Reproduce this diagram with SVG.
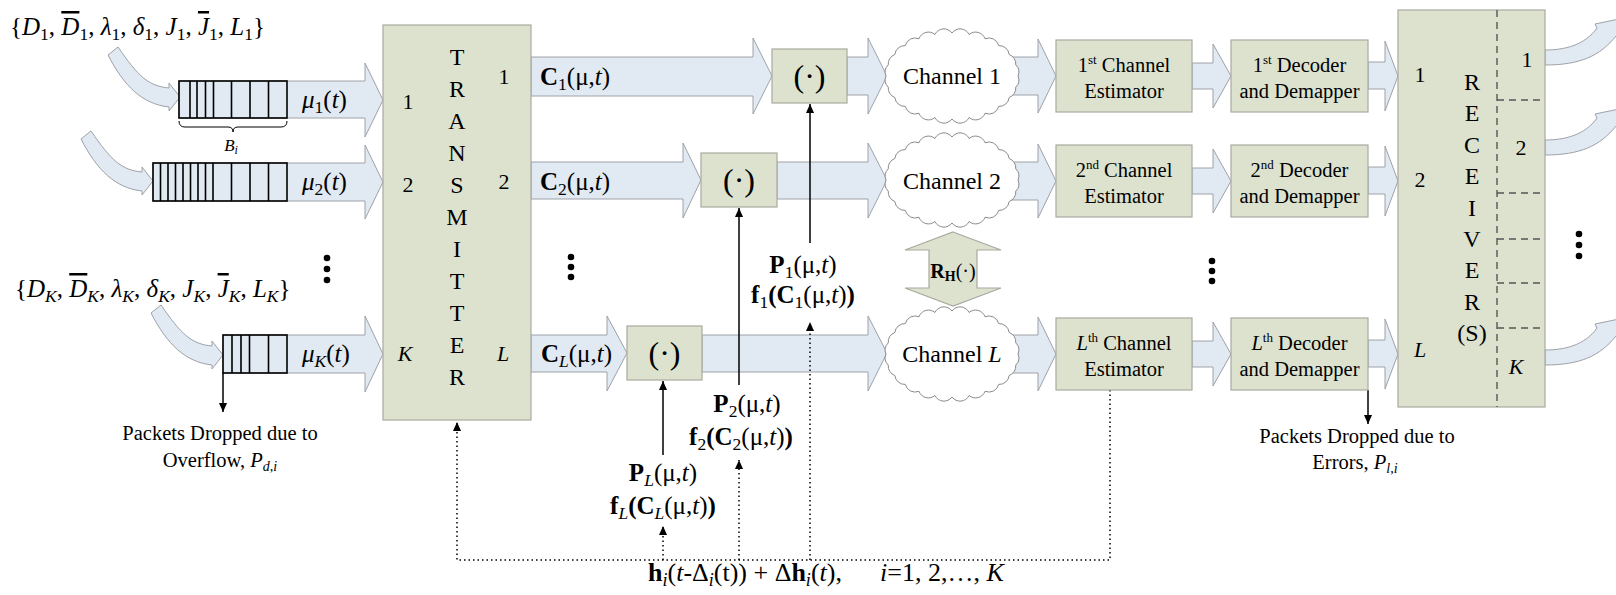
<svg xmlns="http://www.w3.org/2000/svg" width="1616" height="595" viewBox="0 0 1616 595" font-family="'Liberation Serif', serif">
<style>
text, tspan{font-family:'Liberation Serif', 'Times New Roman', serif;fill:#000}
.box{fill:#dde2cf;stroke:#a8aaa0;stroke-width:1.2}
.arw{fill:#e1e9f3;stroke:#9ea2a8;stroke-width:1}
.cloud{fill:#fff;stroke:#8a8a8a;stroke-width:1}
.q{fill:none;stroke:#000;stroke-width:1.6}
.ln{fill:none;stroke:#000;stroke-width:1.5}
.dot{fill:none;stroke:#000;stroke-width:1.5;stroke-dasharray:1.5 3}
.dash{fill:none;stroke:#555;stroke-width:1.4;stroke-dasharray:7 5}
.i{font-style:italic}
.b{font-weight:bold}
.ov{text-decoration:overline}
.mid{text-anchor:middle}
.f19{font-size:20.5px}
.f20{font-size:20.5px}
.f22{font-size:22px}
.f23{font-size:24px}
.f24{font-size:24px}
.f25{font-size:25px}
.f26{font-size:26px}
.f32{font-size:32px}
.sb{font-size:17.5px}
.sp{font-size:13px}
</style>
<defs>
<marker id="ah" viewBox="0 0 10 10" refX="10" refY="5" markerWidth="9" markerHeight="9" markerUnits="userSpaceOnUse" orient="auto"><path d="M0,0.5 L10,5 L0,9.5 Z" fill="#000"/></marker>
<path id="cloudShape" d="M66,0 A10,10 0 0 1 63.75,11.13 A10,10 0 0 1 57.16,21.5 A10,10 0 0 1 46.67,30.41 A10,10 0 0 1 33,37.24 A10,10 0 0 1 17.08,41.53 A10,10 0 0 1 0,43 A10,10 0 0 1 -17.08,41.53 A10,10 0 0 1 -33,37.24 A10,10 0 0 1 -46.67,30.41 A10,10 0 0 1 -57.16,21.5 A10,10 0 0 1 -63.75,11.13 A10,10 0 0 1 -66,0 A10,10 0 0 1 -63.75,-11.13 A10,10 0 0 1 -57.16,-21.5 A10,10 0 0 1 -46.67,-30.41 A10,10 0 0 1 -33,-37.24 A10,10 0 0 1 -17.08,-41.53 A10,10 0 0 1 0,-43 A10,10 0 0 1 17.08,-41.53 A10,10 0 0 1 33,-37.24 A10,10 0 0 1 46.67,-30.41 A10,10 0 0 1 57.16,-21.5 A10,10 0 0 1 63.75,-11.13 A10,10 0 0 1 66,0 Z"/>
</defs>

<!-- block arrows (drawn first, boxes sit on top) -->
<g id="connectors">
  <!-- source inputs into the queues -->
  <path class="arw" d="M118,47 C138,76 148,86 169,88 L169,83 L180,97 L169,111 L169,107 C142,104 124,86 108,55 Z"/>
  <path class="arw" d="M91,131 C111,160 121,170 142,172 L142,167 L153,181 L142,195 L142,191 C115,188 97,170 81,139 Z"/>
  <path class="arw" d="M161,305 C181,334 191,344 212,346 L212,341 L223,355 L212,369 L212,365 C185,362 167,344 151,313 Z"/>
  <!-- queues to transmitter -->
  <polygon class="arw" points="179,81 365,81 365,63 383,100 365,137 365,118 179,118"/>
  <polygon class="arw" points="153,163 365,163 365,145 383,182 365,219 365,201 153,201"/>
  <polygon class="arw" points="223,335 365,335 365,316 383,354 365,392 365,373 223,373"/>
  <!-- transmitter outputs -->
  <polygon class="arw" points="531,57 753,57 753,38 772,76 753,114 753,96 531,96"/>
  <polygon class="arw" points="531,162 683,162 683,143 701,180 683,218 683,199 531,199"/>
  <polygon class="arw" points="531,335 607,335 607,316 627,353 607,391 607,372 531,372"/>
  <!-- precoders to channels -->
  <polygon class="arw" points="847,57 868,57 868,38 887,76 868,114 868,95 847,95"/>
  <polygon class="arw" points="777,162 868,162 868,143 887,180 868,218 868,199 777,199"/>
  <polygon class="arw" points="702,335 868,335 868,316 887,353 868,391 868,372 702,372"/>
  <!-- channels to estimators -->
  <polygon class="arw" points="1010,57 1038,57 1038,39 1056,76 1038,113 1038,95 1010,95"/>
  <polygon class="arw" points="1010,162 1038,162 1038,144 1056,181 1038,218 1038,200 1010,200"/>
  <polygon class="arw" points="1010,335 1038,335 1038,317 1056,354 1038,391 1038,373 1010,373"/>
  <!-- estimators to decoders -->
  <polygon class="arw" points="1192,63 1213,63 1213,44 1231,76 1213,108 1213,89 1192,89"/>
  <polygon class="arw" points="1192,168 1213,168 1213,149 1231,181 1213,213 1213,194 1192,194"/>
  <polygon class="arw" points="1192,341 1213,341 1213,322 1231,354 1213,386 1213,367 1192,367"/>
  <!-- decoders to receiver -->
  <polygon class="arw" points="1368,62 1385,62 1385,41 1398,76 1385,111 1385,89 1368,89"/>
  <polygon class="arw" points="1368,167 1385,167 1385,146 1398,181 1385,216 1385,194 1368,194"/>
  <polygon class="arw" points="1368,340 1385,340 1385,319 1398,354 1385,389 1385,367 1368,367"/>
  <!-- receiver outputs -->
  <path class="arw" d="M1545,50 C1565,50 1585,45 1597,28 L1595,24 L1624,18 L1624,42 L1616,36 C1600,56 1580,65 1545,65 Z"/>
  <path class="arw" d="M1545,140 C1565,140 1585,135 1597,118 L1595,114 L1624,108 L1624,132 L1616,126 C1600,146 1580,155 1545,155 Z"/>
  <path class="arw" d="M1545,350 C1565,350 1585,345 1597,328 L1595,324 L1624,318 L1624,342 L1616,336 C1600,356 1580,365 1545,365 Z"/>
  <!-- correlation between channels -->
  <polygon class="box" points="953,232 1001,250 977,250 977,288 1001,288 953,306 905,288 929,288 929,250 905,250"/>

  <!-- control inputs to the precoders -->
  <line class="ln" x1="810" y1="243" x2="810" y2="104" marker-end="url(#ah)"/>
  <line class="ln" x1="739" y1="385" x2="739" y2="208" marker-end="url(#ah)"/>
  <line class="ln" x1="663" y1="455" x2="663" y2="381" marker-end="url(#ah)"/>
  <!-- packet drops -->
  <line class="ln" x1="223" y1="373" x2="223" y2="412" marker-end="url(#ah)"/>
  <line class="ln" x1="1368" y1="390" x2="1368" y2="424" marker-end="url(#ah)"/>
  <!-- feedback of channel state -->
  <polyline class="dot" points="1110,390 1110,560 457,560 457,422" marker-end="url(#ah)"/>
  <line class="dot" x1="810" y1="560" x2="810" y2="322" marker-end="url(#ah)"/>
  <line class="dot" x1="739" y1="560" x2="739" y2="460" marker-end="url(#ah)"/>
  <line class="dot" x1="663" y1="560" x2="663" y2="526" marker-end="url(#ah)"/>
</g>

<!-- packet queues -->
<g id="queue1">
  <rect class="q" x="179" y="81" width="108" height="37"/>
  <path class="q" d="M190,81V118M197,81V118M205.5,81V118M213.5,81V118M231.5,81V118M250,81V118M268.5,81V118"/>
  <path fill="none" stroke="#000" stroke-width="1" d="M179,121 Q179,127 185,127 L228,127 Q233,127 233,132 Q233,127 238,127 L281,127 Q287,127 287,121"/>
  <text class="i mid" x="231" y="151" font-size="17">B<tspan font-size="12" dy="3">i</tspan></text>
</g>
<g id="queue2">
  <rect class="q" x="153" y="163" width="134" height="38"/>
  <path class="q" d="M160.5,163V201M168,163V201M175.5,163V201M183,163V201M190.5,163V201M198,163V201M205.5,163V201M213,163V201M231.5,163V201M250,163V201M268.5,163V201"/>
</g>
<g id="queueK">
  <rect class="q" x="223" y="335" width="64" height="38"/>
  <path class="q" d="M232,335V373M241,335V373M249.5,335V373M268.5,335V373"/>
</g>

<!-- source parameter sets -->
<text class="f25" x="10" y="35">{<tspan class="i">D</tspan><tspan class="sb" dy="5">1</tspan><tspan dy="-5">, </tspan><tspan class="i ov">D</tspan><tspan class="sb" dy="5">1</tspan><tspan dy="-5">, </tspan><tspan class="i">λ</tspan><tspan class="sb" dy="5">1</tspan><tspan dy="-5">, </tspan><tspan class="i">δ</tspan><tspan class="sb" dy="5">1</tspan><tspan dy="-5">, </tspan><tspan class="i">J</tspan><tspan class="sb" dy="5">1</tspan><tspan dy="-5">, </tspan><tspan class="i ov">J</tspan><tspan class="sb" dy="5">1</tspan><tspan dy="-5">, </tspan><tspan class="i">L</tspan><tspan class="sb" dy="5">1</tspan><tspan dy="-5">}</tspan></text>
<text class="f25" x="15" y="297">{<tspan class="i">D</tspan><tspan class="sb i" dy="5">K</tspan><tspan dy="-5">, </tspan><tspan class="i ov">D</tspan><tspan class="sb i" dy="5">K</tspan><tspan dy="-5">, </tspan><tspan class="i">λ</tspan><tspan class="sb i" dy="5">K</tspan><tspan dy="-5">, </tspan><tspan class="i">δ</tspan><tspan class="sb i" dy="5">K</tspan><tspan dy="-5">, </tspan><tspan class="i">J</tspan><tspan class="sb i" dy="5">K</tspan><tspan dy="-5">, </tspan><tspan class="i ov">J</tspan><tspan class="sb i" dy="5">K</tspan><tspan dy="-5">, </tspan><tspan class="i">L</tspan><tspan class="sb i" dy="5">K</tspan><tspan dy="-5">}</tspan></text>

<!-- service rates -->
<text class="f25" x="302" y="108"><tspan class="i">μ</tspan><tspan class="sb" dy="5">1</tspan><tspan dy="-5">(</tspan><tspan class="i">t</tspan>)</text>
<text class="f25" x="302" y="190"><tspan class="i">μ</tspan><tspan class="sb" dy="5">2</tspan><tspan dy="-5">(</tspan><tspan class="i">t</tspan>)</text>
<text class="f25" x="302" y="362"><tspan class="i">μ</tspan><tspan class="sb i" dy="5">K</tspan><tspan dy="-5">(</tspan><tspan class="i">t</tspan>)</text>

<!-- dots -->
<g id="ellipses" fill="#000">
  <circle cx="327" cy="258" r="3.3"/><circle cx="327" cy="269" r="3.3"/><circle cx="327" cy="280" r="3.3"/>
  <circle cx="571" cy="257" r="3.3"/><circle cx="571" cy="267" r="3.3"/><circle cx="571" cy="277" r="3.3"/>
  <circle cx="1212" cy="261" r="3.3"/><circle cx="1212" cy="271" r="3.3"/><circle cx="1212" cy="281" r="3.3"/>
  <circle cx="1579" cy="234" r="3.3"/><circle cx="1579" cy="245" r="3.3"/><circle cx="1579" cy="256" r="3.3"/>
</g>

<!-- transmitter -->
<g id="transmitter">
  <rect class="box" x="383" y="25" width="148" height="395"/>
  <g class="f24 mid">
    <text x="457" y="65">T</text><text x="457" y="97">R</text><text x="457" y="129">A</text><text x="457" y="161">N</text><text x="457" y="193">S</text><text x="457" y="225">M</text><text x="457" y="257">I</text><text x="457" y="289">T</text><text x="457" y="321">T</text><text x="457" y="353">E</text><text x="457" y="385">R</text>
  </g>
  <g class="f22 mid">
    <text x="408" y="109">1</text><text x="408" y="192">2</text><text class="i" x="405" y="361">K</text>
    <text x="504" y="84">1</text><text x="504" y="189">2</text><text class="i" x="503" y="361">L</text>
  </g>
</g>
<text class="f25" x="540" y="85"><tspan class="b">C</tspan><tspan class="sb" dy="5">1</tspan><tspan dy="-5">(μ,</tspan><tspan class="i">t</tspan>)</text>
<text class="f25" x="540" y="190"><tspan class="b">C</tspan><tspan class="sb" dy="5">2</tspan><tspan dy="-5">(μ,</tspan><tspan class="i">t</tspan>)</text>
<text class="f25" x="541" y="362"><tspan class="b">C</tspan><tspan class="sb i" dy="5">L</tspan><tspan dy="-5">(μ,</tspan><tspan class="i">t</tspan>)</text>

<!-- precoding blocks -->
<g id="precoder1"><rect class="box" x="772" y="49" width="75" height="54"/><text class="f32 mid" x="809.5" y="87">(·)</text></g>
<g id="precoder2"><rect class="box" x="701" y="153" width="76" height="54"/><text class="f32 mid" x="739" y="191">(·)</text></g>
<g id="precoderL"><rect class="box" x="627" y="326" width="75" height="54"/><text class="f32 mid" x="664.5" y="364">(·)</text></g>

<!-- precoder control labels -->
<g class="f25 mid">
  <text x="803" y="273"><tspan class="b">P</tspan><tspan class="sb" dy="5">1</tspan><tspan dy="-5">(μ,</tspan><tspan class="i">t</tspan>)</text>
  <text x="803" y="303"><tspan class="b">f</tspan><tspan class="sb" dy="5">1</tspan><tspan class="b" dy="-5">(C</tspan><tspan class="sb" dy="5">1</tspan><tspan dy="-5">(μ,</tspan><tspan class="i">t</tspan>)<tspan class="b">)</tspan></text>
  <text x="747" y="412"><tspan class="b">P</tspan><tspan class="sb" dy="5">2</tspan><tspan dy="-5">(μ,</tspan><tspan class="i">t</tspan>)</text>
  <text x="741" y="445"><tspan class="b">f</tspan><tspan class="sb" dy="5">2</tspan><tspan class="b" dy="-5">(C</tspan><tspan class="sb" dy="5">2</tspan><tspan dy="-5">(μ,</tspan><tspan class="i">t</tspan>)<tspan class="b">)</tspan></text>
  <text x="663" y="481"><tspan class="b">P</tspan><tspan class="sb i" dy="5">L</tspan><tspan dy="-5">(μ,</tspan><tspan class="i">t</tspan>)</text>
  <text x="663" y="514"><tspan class="b">f</tspan><tspan class="sb i" dy="5">L</tspan><tspan class="b" dy="-5">(C</tspan><tspan class="sb i" dy="5">L</tspan><tspan dy="-5">(μ,</tspan><tspan class="i">t</tspan>)<tspan class="b">)</tspan></text>
</g>

<!-- channels -->
<g id="channel1"><use href="#cloudShape" class="cloud" x="952" y="76"/><text class="f23 mid" x="952" y="84">Channel 1</text></g>
<g id="channel2"><use href="#cloudShape" class="cloud" x="952" y="180"/><text class="f23 mid" x="952" y="189">Channel 2</text></g>
<g id="channelL"><use href="#cloudShape" class="cloud" x="952" y="354"/><text class="f23 mid" x="952" y="362">Channel <tspan class="i">L</tspan></text></g>
<text x="953" y="278" class="mid" font-size="20"><tspan class="b">R</tspan><tspan class="b" font-size="14" dy="3">H</tspan><tspan dy="-3">(·)</tspan></text>

<!-- channel estimators -->
<g id="estimator1"><rect class="box" x="1056" y="40" width="136" height="72"/>
  <text class="f20 mid" x="1124" y="72">1<tspan class="sp" dy="-8">st</tspan><tspan dy="8"> Channel</tspan></text><text class="f20 mid" x="1124" y="98">Estimator</text></g>
<g id="estimator2"><rect class="box" x="1056" y="145" width="136" height="72"/>
  <text class="f20 mid" x="1124" y="177">2<tspan class="sp" dy="-8">nd</tspan><tspan dy="8"> Channel</tspan></text><text class="f20 mid" x="1124" y="203">Estimator</text></g>
<g id="estimatorL"><rect class="box" x="1056" y="318" width="136" height="72"/>
  <text class="f20 mid" x="1124" y="350"><tspan class="i">L</tspan><tspan class="sp" dy="-8">th</tspan><tspan dy="8"> Channel</tspan></text><text class="f20 mid" x="1124" y="376">Estimator</text></g>

<!-- decoders -->
<g id="decoder1"><rect class="box" x="1231" y="40" width="137" height="72"/>
  <text class="f20 mid" x="1299.5" y="72">1<tspan class="sp" dy="-8">st</tspan><tspan dy="8"> Decoder</tspan></text><text class="f20 mid" x="1299.5" y="98">and Demapper</text></g>
<g id="decoder2"><rect class="box" x="1231" y="145" width="137" height="72"/>
  <text class="f20 mid" x="1299.5" y="177">2<tspan class="sp" dy="-8">nd</tspan><tspan dy="8"> Decoder</tspan></text><text class="f20 mid" x="1299.5" y="203">and Demapper</text></g>
<g id="decoderL"><rect class="box" x="1231" y="318" width="137" height="72"/>
  <text class="f20 mid" x="1299.5" y="350"><tspan class="i">L</tspan><tspan class="sp" dy="-8">th</tspan><tspan dy="8"> Decoder</tspan></text><text class="f20 mid" x="1299.5" y="376">and Demapper</text></g>

<!-- receiver -->
<g id="receiver">
  <rect class="box" x="1398" y="10" width="147" height="397"/>
  <line class="dash" x1="1497" y1="10" x2="1497" y2="407"/>
  <path class="dash" d="M1497,100H1545M1497,193H1545M1497,239H1545M1497,283H1545M1497,328H1545"/>
  <g class="f24 mid">
    <text x="1472" y="90">R</text><text x="1472" y="121">E</text><text x="1472" y="153">C</text><text x="1472" y="184">E</text><text x="1472" y="216">I</text><text x="1472" y="247">V</text><text x="1472" y="278">E</text><text x="1472" y="310">R</text><text x="1472" y="341">(S)</text>
  </g>
  <g class="f22 mid">
    <text x="1420" y="82">1</text><text x="1420" y="187">2</text><text class="i" x="1420" y="357">L</text>
    <text x="1527" y="67">1</text><text x="1521" y="155">2</text><text class="i" x="1516" y="374">K</text>
  </g>
</g>

<!-- drop annotations -->
<g class="f19 mid">
  <text x="220" y="440">Packets Dropped due to</text>
  <text x="220" y="467">Overflow, <tspan class="i">P</tspan><tspan class="i" font-size="14" dy="4">d,i</tspan></text>
  <text x="1357" y="443">Packets Dropped due to</text>
  <text x="1355" y="469">Errors, <tspan class="i">P</tspan><tspan class="i" font-size="14" dy="4">l,i</tspan></text>
</g>

<!-- feedback label -->
<text class="f26" x="648" y="581"><tspan class="b">h</tspan><tspan class="i" font-size="18" dy="5">i</tspan><tspan dy="-5">(</tspan><tspan class="i">t</tspan>-Δ<tspan class="i" font-size="18" dy="5">i</tspan><tspan dy="-5">(t)) + Δ</tspan><tspan class="b">h</tspan><tspan class="i" font-size="18" dy="5">i</tspan><tspan dy="-5">(</tspan><tspan class="i">t</tspan>),</text>
<text class="f26" x="880" y="581"><tspan class="i">i</tspan>=1, 2,…, <tspan class="i">K</tspan></text>
</svg>
